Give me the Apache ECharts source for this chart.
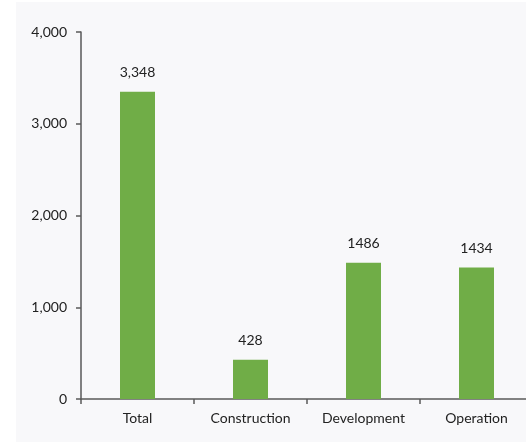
<!DOCTYPE html>
<html>
<head>
<meta charset="utf-8">
<script src="https://cdn.jsdelivr.net/npm/echarts@6/dist/echarts.min.js"></script>
<style>
html,body{margin:0;padding:0;background:#fff;}
#c{width:526px;height:442px;}
</style>
</head>
<body>
<div id="c"></div>
<script>
var categories = ['Total', 'Construction', 'Development', 'Operation'];
var values = [3348, 428, 1486, 1434];
var valueLabels = ['3,348', '428', '1486', '1434'];
var yTicks = [0, 1000, 2000, 3000, 4000];

var chart = echarts.init(document.getElementById('c'), null, {renderer: 'canvas'});
var font = 'Lato, "Open Sans", sans-serif';
chart.setOption({
  backgroundColor: '#ffffff',
  animation: false,
  graphic: [{
    type: 'rect', z: -10, silent: true,
    shape: {x: 16, y: 2, width: 520, height: 450},
    style: {fill: '#F8F8FA'}
  }],
  grid: {left: 81, width: 452, top: 32, bottom: 43, containLabel: false, outerBoundsMode: 'none'},
  xAxis: {
    type: 'category',
    data: categories,
    axisLine: {lineStyle: {color: '#595959', width: 1.5}},
    axisTick: {show: true, length: 5, alignWithLabel: false, lineStyle: {color: '#595959', width: 1.5}},
    axisLabel: {color: '#222', fontSize: 14, fontFamily: font, margin: 12}
  },
  yAxis: {
    type: 'value',
    min: yTicks[0], max: yTicks[yTicks.length - 1], interval: 1000,
    splitLine: {show: false},
    axisLine: {show: true, lineStyle: {color: '#595959', width: 1.5}},
    axisTick: {show: true, length: 5, lineStyle: {color: '#595959', width: 1.5}},
    axisLabel: {color: '#222', fontSize: 14, fontFamily: font, margin: 14,
      formatter: function (v) { return v.toLocaleString('en-US'); }}
  },
  series: [{
    type: 'bar',
    data: values,
    barWidth: 35,
    itemStyle: {color: '#70AD47'},
    label: {
      show: true, position: 'top', distance: 12,
      color: '#222', fontSize: 14, fontFamily: font,
      formatter: function (p) { return valueLabels[p.dataIndex]; }
    }
  }]
});
</script>
</body>
</html>
